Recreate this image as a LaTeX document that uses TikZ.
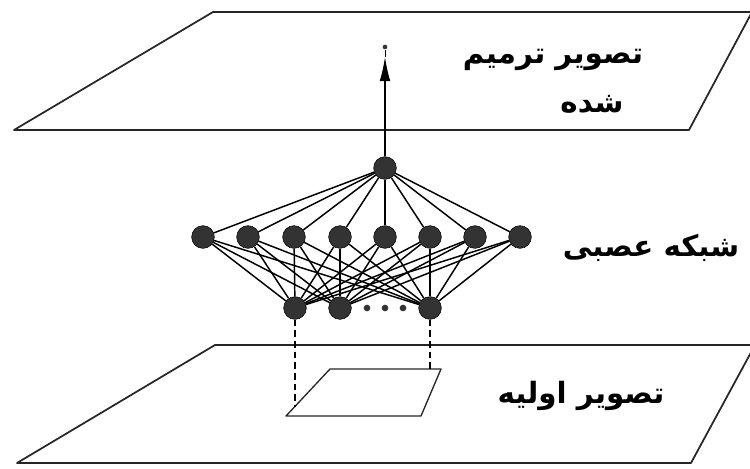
\documentclass[tikz,border=0pt]{standalone}
\usepackage{fontspec}
\usetikzlibrary{arrows.meta}
\TeXXeTstate=1
\newfontfamily\farsi[Script=Arabic]{DejaVu Sans}

\begin{document}
\begin{tikzpicture}[x=0.75pt, y=-0.75pt,
  neuron/.style = {draw, circle, fill=black!80, minimum size=17pt, inner sep=0pt},
  dot/.style = {circle, fill=black!80, minimum size=5pt, inner sep=0pt},
  plane/.style = {draw=black!85, line width=1.3pt, line join=round},
  link/.style = {line width=1.1pt},
  farsitext/.style = {font=\farsi\bfseries\fontsize{22}{26}\selectfont}]

\useasboundingbox (0, 0) rectangle (750, 468);

% planes
\draw[plane] (14, 130) -- (213, 12) -- (752, 12) -- (689, 130) -- cycle;
\draw[plane] (17, 463) -- (215, 345) -- (755, 345) -- (691, 463) -- cycle;
\draw[plane, line width=1pt] (286, 416) -- (330, 369) -- (441, 369) -- (421, 416) -- cycle;

% network
\node[neuron] (O) at (385, 168) {};

\node[neuron] (H1) at (203, 237) {};
\node[neuron] (H2) at (248, 237) {};
\node[neuron] (H3) at (294, 237) {};
\node[neuron] (H4) at (340, 237) {};
\node[neuron] (H5) at (385, 237) {};
\node[neuron] (H6) at (430, 237) {};
\node[neuron] (H7) at (475, 237) {};
\node[neuron] (H8) at (520, 237) {};

\node[neuron] (I1) at (295, 308) {};
\node[neuron] (I2) at (340, 308) {};
\node[neuron] (I3) at (430, 308) {};

\node[dot] (D1) at (367, 308) {};
\node[dot] (D2) at (385, 308) {};
\node[dot] (D3) at (403, 308) {};

\draw[link] (O) -- (H1);
\draw[link] (O) -- (H2);
\draw[link] (O) -- (H3);
\draw[link] (O) -- (H4);
\draw[link] (O) -- (H5);
\draw[link] (O) -- (H6);
\draw[link] (O) -- (H7);
\draw[link] (O) -- (H8);

\draw[link] (H1) -- (I1);
\draw[link] (H1) -- (I2);
\draw[link] (H1) -- (I3);
\draw[link] (H2) -- (I1);
\draw[link] (H2) -- (I2);
\draw[link] (H2) -- (I3);
\draw[link] (H3) -- (I1);
\draw[link] (H3) -- (I2);
\draw[link] (H3) -- (I3);
\draw[link] (H4) -- (I1);
\draw[link] (H4) -- (I2);
\draw[link] (H4) -- (I3);
\draw[link] (H5) -- (I1);
\draw[link] (H5) -- (I2);
\draw[link] (H5) -- (I3);
\draw[link] (H6) -- (I1);
\draw[link] (H6) -- (I2);
\draw[link] (H6) -- (I3);
\draw[link] (H7) -- (I1);
\draw[link] (H7) -- (I2);
\draw[link] (H7) -- (I3);
\draw[link] (H8) -- (I1);
\draw[link] (H8) -- (I2);
\draw[link] (H8) -- (I3);

% output arrow
\coordinate (T) at (385, 57);
\node[dot, minimum size=3.5pt] (E) at (385, 47) {};
\draw[line width=0.9pt, -{Latex[length=18pt, width=8pt]}] (O) -- (T);
\draw (T) -- (E);

% projection onto the input patch
\coordinate (P1) at (295, 407);
\coordinate (P2) at (430, 369);
\draw[dash pattern=on 5pt off 3pt, line width=0.8pt] (I1) -- (P1);
\draw[dash pattern=on 5pt off 3pt, line width=0.8pt] (I3) -- (P2);

% texts
\node[farsitext] (T1) at (553, 60) {\beginR تصویر ترمیم\endR};
\node[farsitext] (T2) at (592, 104) {\beginR شده\endR};
\node[farsitext] (T3) at (651, 248) {\beginR شبکه عصبی\endR};
\node[farsitext] (T4) at (581, 396) {\beginR تصویر اولیه\endR};

\end{tikzpicture}
\end{document}
